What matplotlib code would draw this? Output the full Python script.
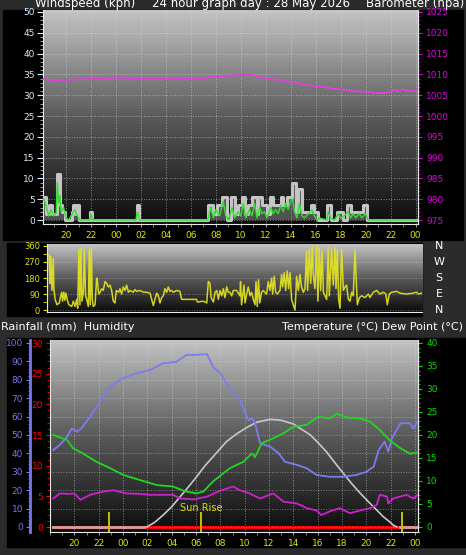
import numpy as np
import matplotlib
matplotlib.use("Agg")
import matplotlib.pyplot as plt
from matplotlib.colors import LinearSegmentedColormap
from matplotlib.patches import Rectangle
from matplotlib.ticker import MultipleLocator

# ---- data (time = hours from midnight of 28 May) ----
time_ticks = [-4, -2, 0, 2, 4, 6, 8, 10, 12, 14, 16, 18, 20, 22, 24]
time_labels = ["20", "22", "00", "02", "04", "06", "08", "10", "12", "14",
               "16", "18", "20", "22", "00"]

# barometer (hpa)
baro_t = [-5.8, -5.0, -4.0, -3.0, -2.0, -1.0, 0.0, 0.6, 0.8, 2.0, 3.0, 4.0,
          5.0, 6.0, 7.0, 8.0, 9.0, 10.0, 11.0, 11.5, 12.0, 13.0, 14.0, 14.5,
          15.0, 16.0, 16.5, 17.0, 17.5, 18.0, 19.0, 20.0, 21.0, 21.5, 22.0,
          22.3, 22.7, 23.0, 23.5, 24.2]
baro_hpa = [1008.9, 1008.6, 1008.7, 1008.8, 1008.9, 1008.9, 1009.0, 1009.5,
            1009.0, 1009.0, 1008.9, 1008.9, 1009.0, 1009.0, 1009.1, 1009.5,
            1009.7, 1009.9, 1009.8, 1009.4, 1008.9, 1008.7, 1008.2, 1008.0,
            1007.5, 1007.2, 1007.0, 1006.8, 1006.5, 1006.4, 1006.0, 1005.8,
            1005.5, 1005.5, 1005.8, 1006.3, 1006.0, 1006.4, 1006.0, 1006.0]

# wind gust (step) and average speed (kph)
gust_t = [-5.8, -5.6, -5.4, -5.1, -4.75, -4.5, -4.3, -4.1, -3.55, -3.45, -3.3,
          -3.2, -2.95, -2.05, -1.9, 1.65, 1.85, 7.4, 7.8, 8.1, 8.5, 8.9, 9.2,
          9.5, 9.8, 10.1, 10.35, 10.6, 10.9, 11.3, 11.4, 11.7, 12.1, 12.35,
          12.6, 13.2, 13.4, 13.7, 14.1, 14.4, 14.6, 14.9, 15.6, 15.9, 16.2,
          16.9, 17.2, 17.7, 18.2, 18.5, 18.8, 19.5, 19.8, 20.1, 24.2]
gust_kph = [5.5, 1.5, 3.5, 1.5, 11, 3.5, 2, 0, 2, 3.5, 1.5,
            3.5, 0, 2, 0, 3.5, 0, 3.5, 1.5, 3.5, 5.5, 0, 5.5,
            1.5, 3.5, 5.5, 1.5, 3.5, 5.5, 1.5, 5.5, 3.5, 1.5, 5.5,
            3.5, 5.5, 3.5, 5.5, 9, 2, 7.5, 2, 3.5, 2, 0,
            3.5, 0, 2, 0, 3.5, 2, 2, 3.5, 0, 0]
avg_t = [-5.8, -5.6, -5.4, -5.2, -5.0, -4.8, -4.7, -4.6, -4.5, -4.4, -4.2,
         -4.0, -3.8, -3.5, -3.3, -3.1, -2.9, -2.1, -2.0, -1.9, 1.6, 1.7, 1.9,
         7.35, 7.4, 7.6, 7.8, 8.0, 8.3, 8.6, 8.8, 9.0, 9.3, 9.5, 9.8, 10.0,
         10.2, 10.4, 10.7, 10.9, 11.1, 11.3, 11.5, 11.7, 11.9, 12.1, 12.4,
         12.6, 12.8, 13.0, 13.2, 13.4, 13.6, 13.8, 14.0, 14.15, 14.3, 14.5,
         14.7, 14.9, 15.1, 15.4, 15.7, 15.9, 16.1, 16.3, 16.9, 17.0, 17.2,
         17.5, 17.8, 18.0, 18.3, 18.6, 18.8, 19.0, 19.2, 19.5, 19.7, 20.0,
         20.2, 24.2]
avg_kph = [5, 3.5, 1, 2.5, 1, 1.5, 9, 4, 6, 2, 3,
           0.5, 0, 1.5, 2.5, 1, 0, 0, 1.5, 0, 0, 2, 0,
           0, 0.5, 3, 0.5, 2.5, 1, 4.5, 1, 0, 3, 0.5, 2, 1,
           4, 0.5, 2.5, 1, 4, 0.5, 3, 1.5, 2, 0.5, 3,
           1.5, 2.5, 1.5, 3.5, 2, 4, 2.5, 4.5, 5, 2, 0.5,
           4, 1, 0.5, 1.5, 2.5, 1, 0, 0.5, 0, 2, 0.5,
           0, 1.5, 0.5, 1, 2, 0.5, 1.5, 0.5, 1.5, 0.5, 1.5,
           0, 0]

# wind direction (degrees)
dir_t = [-5.67, -5.6, -5.55, -5.45, -5.35, -5.3, -5.2, -5.05, -4.86, -4.78,
         -4.67, -4.6, -4.5, -4.42, -4.34, -4.22, -4.1, -3.87, -3.74, -3.6,
         -3.47, -3.39, -3.29, -3.21, -3.13, -3.05, -2.94, -2.86, -2.76, -2.67,
         -2.54, -2.46, -2.38, -2.3, -2.22, -2.14, -2.0, -1.87, -1.79, -1.71,
         -1.6, -1.47, -1.34, -1.2, -1.07, -0.94, -0.8, -0.67, -0.54, -0.4,
         -0.3, -0.1, 0.0, 0.13, 0.26, 0.4, 0.53, 0.67, 0.8, 1.06, 1.2, 1.33,
         1.6, 1.87, 2.14, 2.4, 2.54, 2.67, 2.8, 2.94, 3.07, 3.2, 3.34, 3.47,
         3.6, 3.74, 3.87, 4.0, 4.14, 4.27, 4.54, 4.8, 4.94, 6.14, 6.2, 6.68,
         6.95, 7.08, 7.21, 7.3, 7.48, 7.61, 7.75, 7.88, 8.01, 8.15, 8.28,
         8.41, 8.55, 8.68, 8.81, 8.95, 9.08, 9.35, 9.61, 9.66, 9.74, 9.94,
         10.02, 10.15, 10.28, 10.42, 10.55, 10.68, 10.82, 10.9, 11.0, 11.1,
         11.2, 11.34, 11.48, 11.74, 11.88, 12.01, 12.15, 12.23, 12.36, 12.47,
         12.6, 12.82, 12.95, 13.03, 13.16, 13.27, 13.4, 13.51, 13.62, 13.75,
         13.88, 14.02, 14.1, 14.15, 14.29, 14.42, 14.55, 14.69, 14.82, 14.95,
         15.03, 15.17, 15.28, 15.41, 15.49, 15.62, 15.75, 15.86, 15.97,
         16.08, 16.19, 16.3, 16.43, 16.56, 16.69, 16.77, 16.96, 17.09, 17.23,
         17.31, 17.41, 17.52, 17.63, 17.76, 17.9, 18.03, 18.16, 18.3, 18.43,
         18.56, 18.69, 18.83, 18.91, 19.02, 19.18, 19.36, 19.63, 19.9, 20.03,
         20.3, 20.56, 20.83, 21.1, 21.3, 21.42, 21.58, 21.77, 22.17, 22.43,
         22.97, 23.5, 23.77, 23.9, 24.17]
dir_deg = [310, 150, 300, 110, 290, 120, 60, 30, 40, 70,
           100, 50, 100, 55, 95, 55, 30, 20, 50, 20,
           60, 10, 340, 30, 350, 50, 100, 340, 80, 60,
           20, 340, 30, 350, 60, 20, 30, 180, 150, 90,
           100, 120, 110, 160, 150, 130, 140, 110, 50, 40,
           110, 100, 120, 90, 130, 110, 140, 100, 110, 100, 115, 105,
           110, 100, 100, 95, 60, 25, 60, 95, 80, 40, 70, 80,
           120, 100, 130, 105, 110, 100, 110, 105, 60, 60, 45, 50,
           40, 160, 150, 70, 45, 100, 110, 60, 110, 80, 120,
           70, 130, 100, 100, 80, 110, 110, 80, 160, 30, 140,
           40, 90, 130, 80, 100, 60, 30, 160, 20, 170,
           40, 100, 110, 90, 160, 110, 180, 90, 190, 100,
           90, 110, 200, 130, 210, 110, 220, 120, 210, 60,
           30, 0, 100, 190, 110, 200, 130, 100, 120, 330,
           110, 340, 150, 355, 200, 120, 360, 50, 350,
           110, 330, 100, 80, 60, 350, 80, 340, 140, 350,
           120, 340, 60, 10, 340, 110, 130, 140, 60, 50,
           100, 80, 340, 200, 30, 70, 80, 70, 90, 70,
           100, 110, 90, 100, 90, 30, 90, 100, 105, 95,
           90, 95, 100, 90, 95]

# humidity (%), temperature and dew point (C), sun curve (humidity scale)
hum_t = [-5.73, -5.2, -4.6, -4.2, -3.8, -3.4, -2.7, -2.0, -1.34, -0.5, 0.3,
         1.1, 2.2, 3.3, 4.4, 5.2, 6.0, 6.9, 7.4, 8.0, 8.5, 9.0, 9.6, 10.3,
         10.6, 10.85, 11.25, 12.1, 12.8, 13.3, 14.3, 15.1, 15.9, 17.0, 18.1,
         19.2, 20.0, 20.6, 21.0, 21.5, 21.8, 22.1, 22.8, 23.6, 23.85, 24.2]
hum_pct = [41.8, 44.6, 49, 53.6, 51.8, 53.8, 60, 67, 74.5, 79, 81.7,
           83.5, 85.3, 89, 89.8, 93.5, 93.5, 94, 87, 83.5, 78, 73, 69, 58,
           59, 56.5, 45.6, 43.6, 40, 35.5, 33.7, 31.9, 28.3, 27.3, 27.3,
           28.3, 30, 32.8, 41.8, 46.4, 41, 48.2, 56.4, 56.4, 53.6, 57.2]
temp_t = [-5.73, -4.6, -4.1, -3.3, -2.2, -1.07, 0.03, 1.4, 2.8, 4.1, 5.2,
          6.05, 6.6, 7.4, 8.25, 8.8, 9.9, 10.6, 10.85, 11.4, 12.35, 13.2,
          14.0, 15.1, 16.05, 17.0, 17.55, 18.4, 19.5, 20.3, 21.1, 21.9, 22.8,
          23.6, 24.1]
temp_c = [20, 18.9, 17.1, 16, 14.2, 12.8, 11.3, 10.2, 9.1, 8.8, 7.7,
          7.3, 7.7, 9.9, 11.7, 12.8, 14.2, 16.0, 15.2, 18.2, 19.3, 20.4,
          21.8, 22.2, 24, 23.6, 24.6, 23.8, 23.6, 22.9, 21.1, 18.9, 17.1,
          15.9, 16.2]
dew_t = [-5.73, -5.2, -4.4, -4.0, -3.5, -2.7, -1.6, -0.8, 0.3, 1.4, 2.2,
         4.1, 4.7, 5.8, 6.9, 8.0, 9.05, 9.6, 10.4, 11.25, 12.35, 13.2, 14.3,
         15.1, 15.9, 16.3, 17.0, 17.8, 18.65, 19.5, 20.3, 20.85, 21.1, 21.7,
         21.8, 22.2, 23.3, 23.85, 24.2]
dew_c = [6.2, 7.3, 7.2, 7.3, 5.9, 7.0, 7.7, 8.0, 7.3, 7.2, 7.0,
         7.0, 6.2, 6.0, 6.6, 7.9, 8.8, 8.0, 7.3, 6.2, 7.3, 5.5, 5.1,
         4.1, 3.6, 2.6, 3.4, 4.1, 3.0, 3.6, 4.1, 4.8, 7.0, 6.6,
         5.1, 6.2, 7.0, 6.2, 7.0]
sun_t = [1.95, 2.6, 3.3, 4.0, 4.7, 5.4, 6.05, 6.7, 7.4, 8.5, 9.3, 10.2, 11.0,
         12.1, 13.0, 14.0, 15.4, 16.0, 16.7, 17.4, 18.1, 18.8, 19.5, 20.2,
         20.85, 21.4, 21.9, 22.2, 22.5]
sun_val = [0, 2.5, 6.5, 11, 16.5, 22, 27.3, 33, 38.2, 46.4, 50.5, 54.2, 57,
           58.5, 58, 56, 50, 46, 41, 35, 29.2, 23.5, 18.3, 13.5,
           9.2, 5.5, 2.9, 1, 0]
rain_t = [-5.75, 24.2]
rain_mm = [0, 0]
sun_marks = [-1.15, 6.4, 22.9]

# ---- styling ----
W, H = 466, 555
BG = "#2b2b2b"
YEL = "#e4e400"
shade_cmap = LinearSegmentedColormap.from_list("shade", ["#0c0c0c", "#5a5a5a", "#c4c4c4"])

fig = plt.figure(figsize=(W / 100, H / 100), dpi=100, facecolor=BG)


def box(x0, y0, x1, y1):
    return [x0 / W, 1 - y1 / H, (x1 - x0) / W, (y1 - y0) / H]


def black_panel(x0, y0, x1, y1):
    fig.add_artist(Rectangle((x0 / W, 1 - y1 / H), (x1 - x0) / W, (y1 - y0) / H,
                             transform=fig.transFigure, color="black", zorder=-5))


def shade(ax, xlim, ylim):
    grad = np.linspace(1, 0, 256).reshape(-1, 1)
    ax.imshow(grad, extent=[xlim[0], xlim[1], ylim[0], ylim[1]], aspect="auto",
              cmap=shade_cmap, origin="upper", zorder=0)
    ax.set_xlim(xlim)
    ax.set_ylim(ylim)


def frame(ax):
    for side in ["top", "right", "left", "bottom"]:
        ax.spines[side].set_color("#e8e8e8")
    ax.spines["top"].set_visible(False)


black_panel(3, 10, 463, 240)
black_panel(7, 243, 422, 316)
black_panel(7, 338, 466, 547)

# titles (clipped at the top edge, as in the original window grab)
fig.text(35 / W, 1 - 7 / H, "Windspeed (kph)", color="white", fontsize=8.5, va="baseline")
fig.text(251 / W, 1 - 7 / H, "24 hour graph day : 28 May 2026", color="white",
         fontsize=8.5, va="baseline", ha="center")
fig.text(464 / W, 1 - 7 / H, "Barometer (hpa)", color="white", fontsize=8.5,
         va="baseline", ha="right")
fig.text(1 / W, 1 - 327 / H, "Rainfall (mm)  Humidity", color="white", fontsize=8, va="center")
fig.text(463 / W, 1 - 327 / H, "Temperature (°C) Dew Point (°C)", color="white",
         fontsize=8, va="center", ha="right")

# ---- top: wind speed + barometer ----
xl_top = (-5.85, 24.2)
ax_w = fig.add_axes(box(43, 10, 418, 224))
shade(ax_w, xl_top, (-0.96, 50.48))
frame(ax_w)
ax_w.yaxis.set_major_locator(MultipleLocator(5))
ax_w.yaxis.set_minor_locator(MultipleLocator(1))
ax_w.tick_params(axis="y", colors="#d8ecff", labelsize=6.5, length=4, pad=2)
ax_w.tick_params(axis="y", which="minor", colors="#bbbbbb", length=2)
ax_w.set_xticks(time_ticks, time_labels)
ax_w.xaxis.set_minor_locator(MultipleLocator(1))
ax_w.tick_params(axis="x", which="both", colors="#999999", labelcolor=YEL, labelsize=6.5,
                 length=2, pad=3)
ax_w.grid(True, which="major", color="#dddddd", linestyle=":", linewidth=0.7, alpha=0.55)
ax_w.fill_between(gust_t, gust_kph, 0, step="post", color="#a0a0a0", alpha=0.45, zorder=2, lw=0)
ax_w.plot(gust_t, gust_kph, drawstyle="steps-post", color="#c4c4c4", lw=2.2, zorder=3)
ax_w.plot(avg_t, avg_kph, color="#30e030", lw=1, zorder=4)

ax_p = ax_w.twinx()
ax_p.set_ylim(974.04, 1025.48)
ax_p.yaxis.set_major_locator(MultipleLocator(5))
ax_p.yaxis.set_minor_locator(MultipleLocator(1))
ax_p.tick_params(axis="y", colors="#e000e0", labelsize=6.5, length=3, pad=3)
ax_p.tick_params(axis="y", which="minor", colors="#c000c0", length=1.5)
for side in ["top", "left", "bottom"]:
    ax_p.spines[side].set_visible(False)
ax_p.spines["right"].set_color("#e8e8e8")
ax_p.plot(baro_t, baro_hpa, color="#e040e0", lw=1.3)

# ---- middle: wind direction ----
ax_d = fig.add_axes(box(47, 244, 422, 312))
shade(ax_d, xl_top, (-11, 371))
frame(ax_d)
ax_d.spines["right"].set_visible(False)
ax_d.set_yticks([0, 90, 180, 270, 360])
ax_d.yaxis.set_minor_locator(MultipleLocator(45))
ax_d.tick_params(axis="y", which="both", colors=YEL, labelsize=6, length=3, pad=2)
ax_d.set_xticks([])
ax_d.grid(True, axis="y", color="#dddddd", linestyle=":", linewidth=0.7, alpha=0.4)
ax_d.plot(dir_t, dir_deg, color="#e6e620", lw=1.1, alpha=0.9)
for deg, name in zip([360, 270, 180, 90, 0], ["N", "W", "S", "E", "N"]):
    ax_d.text(1.046, deg, name, transform=ax_d.get_yaxis_transform(), color="white",
              fontsize=8, ha="center", va="center", clip_on=False)

# ---- bottom: rain, humidity, temperature, dew point ----
xl_bot = (-6.0, 24.24)
ax_r = fig.add_axes(box(50, 340, 418, 532))
shade(ax_r, xl_bot, (-0.815, 30.49))
frame(ax_r)
ax_r.yaxis.set_major_locator(MultipleLocator(5))
ax_r.yaxis.set_minor_locator(MultipleLocator(1))
ax_r.tick_params(axis="y", which="both", colors="#ff0000", labelsize=6.5, length=3, pad=2)
ax_r.tick_params(axis="y", which="minor", length=2)
ax_r.set_xticks(time_ticks, time_labels)
ax_r.xaxis.set_minor_locator(MultipleLocator(1))
ax_r.tick_params(axis="x", which="both", colors="#999999", labelcolor=YEL, labelsize=6.5,
                 length=2, pad=3)
ax_r.grid(True, axis="x", color="#dddddd", linestyle=":", linewidth=0.7, alpha=0.55)

ax_h = ax_r.twinx()
ax_h.set_ylim(-2.72, 101.63)
ax_h.yaxis.set_ticks_position("left")
ax_h.yaxis.set_label_position("left")
ax_h.spines["left"].set_position(("outward", 14.4))
ax_h.spines["left"].set_color("#7878f0")
ax_h.spines["left"].set_linewidth(2)
for side in ["top", "right", "bottom"]:
    ax_h.spines[side].set_visible(False)
ax_h.yaxis.set_major_locator(MultipleLocator(10))
ax_h.yaxis.set_minor_locator(MultipleLocator(2))
ax_h.tick_params(axis="y", which="both", colors="#7878f0", labelsize=6.5, length=3, pad=2)
ax_h.tick_params(axis="y", which="minor", length=1.5)
ax_h.grid(True, axis="y", color="#dddddd", linestyle=":", linewidth=0.7, alpha=0.45)

ax_t = ax_r.twinx()
ax_t.set_ylim(-1.087, 40.65)
for side in ["top", "left", "bottom"]:
    ax_t.spines[side].set_visible(False)
ax_t.spines["right"].set_color("#e8e8e8")
ax_t.yaxis.set_major_locator(MultipleLocator(5))
ax_t.yaxis.set_minor_locator(MultipleLocator(1))
ax_t.tick_params(axis="y", which="both", colors="#00e000", labelsize=6.5, length=3, pad=3)
ax_t.tick_params(axis="y", which="minor", length=1.5)

ax_h.plot(sun_t, sun_val, color="#c8c8c8", lw=1.2, zorder=2)
ax_h.plot(hum_t, hum_pct, color="#7c7cf0", lw=1.3, zorder=3)
ax_t.plot(temp_t, temp_c, color="#20d820", lw=1.3, zorder=3)
ax_t.plot(dew_t, dew_c, color="#cc22cc", lw=1.3, zorder=3)
ax_r.plot(rain_t, rain_mm, color="#d89090", lw=2.2, zorder=4)
ax_r.plot([sun_t[0], sun_t[-1]], [0, 0], color="#ff0000", lw=2.2, zorder=5)
ax_h.vlines(sun_marks, -2.72, 8.2, color="#c8c000", lw=1.4, zorder=6)
ax_h.text(sun_marks[1], 10.3, "Sun Rise", color="#e0e000", fontsize=7, ha="center", va="center")

fig.savefig("out.png", dpi=100, facecolor=BG)
